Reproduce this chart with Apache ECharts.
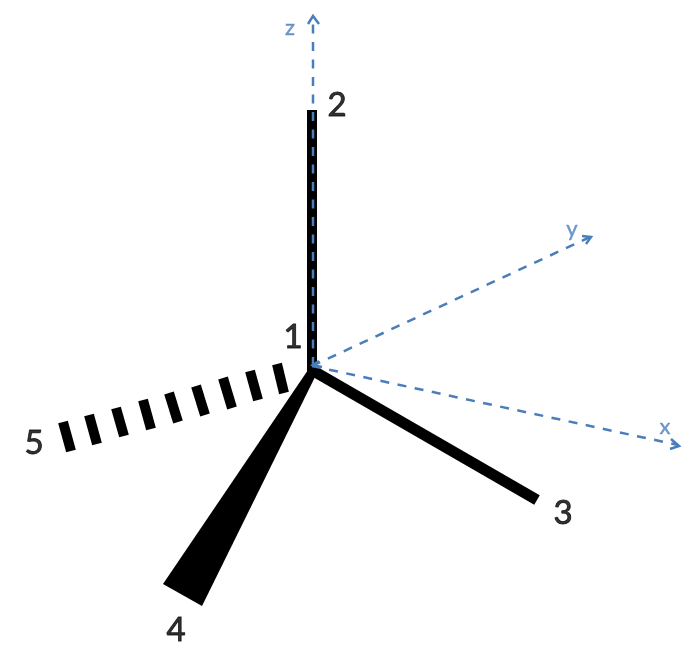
<!DOCTYPE html>
<html>
<head>
<meta charset="UTF-8">
<title></title>
<style>
html, body { margin: 0; padding: 0; background: #fff; }
#main { width: 694px; height: 660px; }
</style>
</head>
<body>
<div id="main"></div>
<script src="https://cdn.jsdelivr.net/npm/echarts@6/dist/echarts.min.js"></script>
<script>
// all points are [x, y] in the picture's own units
var bond2 = [[312, 110], [312, 371]];
var bond3 = [[310, 369], [537, 500]];
var wedge4 = [[312, 366], [315, 377], [202, 606], [163, 584], [308, 370]];
var hashTop5 = [[63, 422], [89, 415], [116, 408], [143, 400], [169, 393], [196, 386], [223, 378], [250, 371], [277, 364]];
var hashBottom5 = [[71, 451], [97, 444], [124, 436], [151, 429], [178, 422], [205, 415], [232, 408], [258, 400], [284, 393]];

var axisX = [[312, 366], [678, 445]];
var axisY = [[312, 366], [590, 237]];
var axisZ = [[313, 366], [313, 17]];
var headX = [[671, 439], [679, 446], [670, 449]];
var headY = [[582, 236], [591, 237], [586, 244]];
var headZ = [[308, 24], [313, 16], [319, 24]];
var headO = [[319, 361], [313, 365], [322, 367]];

var atomLabels = ['1', '2', '3', '4', '5'];
var atomPos = [[293, 337], [337, 105], [563, 513], [176, 630], [34, 443]];
var axisLabels = ['x', 'y', 'z'];
var axisLabelPos = [[665, 427], [572, 229], [290, 28]];

var blue = '#4a7ebb';

function lineSeries(points, color, width, dashed) {
	return {
		type: 'line',
		data: points,
		symbol: 'none',
		silent: true,
		z: dashed !== undefined ? 5 : 2,
		lineStyle: { color: color, width: width, type: dashed || 'solid', cap: 'butt', join: 'miter' }
	};
}

function labelSeries(names, pos, color, size, stroke) {
	return {
		type: 'scatter',
		symbolSize: 0,
		silent: true,
		z: 6,
		data: pos.map(function (p, i) { return { value: p, name: names[i] }; }),
		label: {
			show: true,
			position: 'inside',
			formatter: '{b}',
			color: color,
			fontSize: size,
			fontFamily: 'Lato',
			textBorderColor: color,
			textBorderWidth: stroke
		}
	};
}

var hashes = hashTop5.map(function (p, i) { return lineSeries([p, hashBottom5[i]], '#000', 10); });

var myChart = echarts.init(document.getElementById('main'));

var option = {
	animation: false,
	backgroundColor: '#fff',
	grid: { left: 0, right: 0, top: 0, bottom: 0 },
	xAxis: { type: 'value', min: 0, max: 694, show: false },
	yAxis: { type: 'value', min: 0, max: 660, inverse: true, show: false },
	series: [
		lineSeries(bond2, '#000', 10),
		lineSeries(bond3, '#000', 11),
		{
			type: 'custom',
			silent: true,
			z: 2,
			data: [0],
			renderItem: function (params, api) {
				return {
					type: 'polygon',
					shape: { points: wedge4.map(function (p) { return api.coord(p); }) },
					style: { fill: '#000' }
				};
			}
		}
	].concat(hashes, [
		lineSeries(axisX, blue, 2.5, [9, 8.5]),
		lineSeries(axisY, blue, 2.5, [9, 8.5]),
		lineSeries(axisZ, blue, 2.5, [9, 8.5]),
		lineSeries(headX, blue, 2.5, 'solid'),
		lineSeries(headY, blue, 2.5, 'solid'),
		lineSeries(headZ, blue, 2.5, 'solid'),
		lineSeries(headO, blue, 2.5, 'solid'),
		labelSeries(atomLabels, atomPos, '#000', 33, 0.9),
		labelSeries(axisLabels, axisLabelPos, blue, 22, 0.4)
	])
};

myChart.setOption(option);
</script>
</body>
</html>
